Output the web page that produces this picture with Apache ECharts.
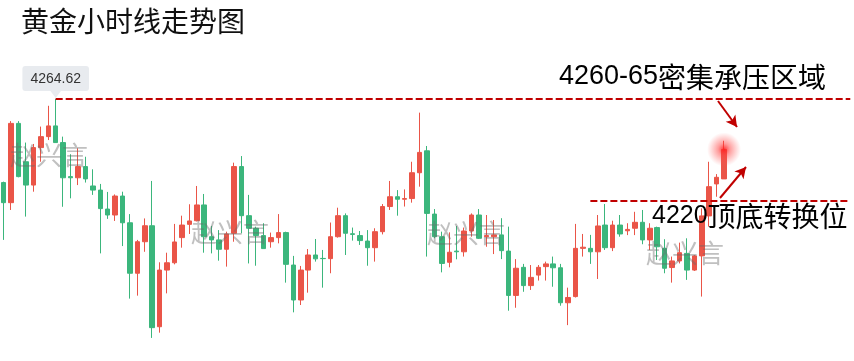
<!DOCTYPE html>
<html><head><meta charset="utf-8">
<script src="https://cdn.jsdelivr.net/npm/echarts@6/dist/echarts.min.js"></script>
<style>html,body{margin:0;padding:0;background:#fff}#c{width:854px;height:361px}</style>
</head><body><div id="c"></div><script>
const opens=[4228.0,4219.2,4253.9,4237.1,4226.9,4243.3,4248.1,4252.8,4245.5,4230.6,
4230.1,4235.0,4226.5,4224.7,4216.4,4213.8,4222.1,4210.4,4188.3,4202.1,
4209.1,4164.9,4189.7,4192.9,4203.9,4209.7,4211.3,4218.2,4204.3,4202.9,
4198.8,4205.8,4235.0,4213.5,4208.0,4204.8,4202.1,4203.9,4206.1,4191.9,
4176.6,4189.7,4196.3,4194.8,4194.7,4204.3,4213.5,4205.6,4204.8,4202.4,
4199.5,4206.5,4217.5,4221.8,4220.7,4221.0,4232.3,4241.9,4214.2,4204.3,
4193.1,4198.0,4197.7,4206.8,4213.8,4204.3,4204.3,4205.1,4198.0,4178.6,
4190.9,4182.9,4187.5,4191.2,4192.4,4190.7,4175.4,4178.1,4199.2,4199.2,
4197.7,4209.4,4199.5,4209.4,4206.9,4208.0,4210.6,4202.9,4208.3,4199.2,
4190.8,4193.7,4197.0,4189.7,4195.9,4213.4,4227.4,4229.6];
const closes=[4219.2,4253.9,4230.6,4226.9,4243.3,4248.1,4252.8,4245.5,4230.1,4230.1,
4235.0,4229.6,4224.7,4216.6,4213.8,4222.1,4210.4,4188.3,4202.1,4209.1,
4164.5,4189.7,4192.9,4202.0,4209.4,4211.2,4218.2,4204.3,4202.9,4198.8,
4205.5,4235.0,4213.5,4208.0,4204.8,4199.1,4203.9,4206.1,4192.2,4176.6,
4189.7,4196.3,4194.6,4194.7,4204.3,4213.5,4205.8,4205.3,4202.6,4199.5,
4206.5,4217.5,4221.8,4220.7,4221.0,4232.3,4241.2,4214.5,4204.3,4192.6,
4197.5,4197.7,4206.8,4213.8,4203.6,4204.8,4205.1,4198.2,4178.6,4190.5,
4182.9,4186.5,4190.9,4192.4,4190.7,4175.4,4177.7,4199.2,4199.7,4197.7,
4209.0,4199.5,4209.4,4205.5,4207.5,4210.6,4202.9,4208.0,4199.9,4190.5,
4193.7,4197.3,4189.7,4195.9,4213.4,4226.2,4230.3,4242.5];
const lows=[4202.9,4216.0,4230.3,4213.1,4224.0,4237.1,4246.6,4245.5,4217.4,4221.1,
4226.9,4228.0,4222.6,4197.0,4212.1,4211.2,4200.2,4177.2,4178.5,4197.7,
4160.0,4162.3,4179.5,4192.2,4199.5,4205.5,4211.0,4197.3,4197.0,4193.8,
4191.2,4202.1,4205.8,4192.6,4191.6,4199.1,4199.5,4201.4,4184.2,4171.2,
4174.4,4179.8,4193.4,4182.0,4188.3,4203.9,4196.3,4202.6,4200.7,4191.6,
4193.4,4205.3,4216.0,4213.5,4217.5,4219.2,4226.2,4195.6,4203.6,4188.7,
4190.9,4194.4,4195.6,4204.3,4203.3,4199.9,4196.7,4194.5,4171.9,4173.2,
4180.2,4181.0,4185.1,4185.1,4182.4,4174.1,4165.6,4177.7,4195.6,4192.4,
4185.8,4198.5,4198.0,4204.3,4205.0,4205.0,4201.0,4198.5,4194.1,4188.3,
4184.2,4192.6,4185.4,4189.3,4178.1,4208.7,4221.8,4229.6];
const highs=[4228.4,4254.9,4254.9,4245.5,4244.9,4252.5,4261.6,4264.62,4248.1,4240.4,
4243.0,4239.3,4233.8,4227.4,4223.9,4222.8,4224.0,4214.2,4202.9,4212.3,
4228.7,4193.1,4197.3,4209.9,4213.5,4218.5,4226.5,4223.0,4209.0,4207.2,
4206.5,4236.7,4239.6,4222.6,4208.7,4210.2,4206.1,4214.2,4206.5,4195.9,
4191.5,4198.9,4203.3,4198.5,4210.5,4217.0,4214.5,4208.3,4206.8,4207.2,
4208.0,4218.6,4228.7,4224.7,4225.0,4237.1,4258.6,4244.0,4216.4,4206.5,
4206.2,4209.0,4208.3,4214.5,4216.4,4213.8,4211.6,4212.4,4208.7,4194.5,
4192.4,4191.9,4191.9,4193.4,4195.6,4192.4,4182.0,4209.9,4205.5,4205.1,
4213.8,4218.6,4211.3,4213.8,4210.2,4215.2,4216.0,4210.2,4208.7,4203.2,
4195.6,4201.7,4203.6,4196.3,4216.7,4237.1,4231.7,4246.3];

const titleText='黄金小时线走势图';
const note1Num='4260-65', note1Txt='密集承压区域';
const note2Num='4220', note2Txt='顶底转换位';
const peakLabel='4264.62';
const peakValue=4264.62, peakIndex=7;
const pivotLevel=4220, pivotStart=79;
const watermark='赵兴言';

const slotCount=115;
const categories=[];
for(let i=0;i<slotCount;i++) categories.push(String(i+1));
const candles=opens.map((o,i)=>[o,closes[i],lows[i],highs[i]]);
const lastIndex=closes.length-1;
const lastPrice=closes[lastIndex];

const RED='#ea5548', GREEN='#3bb67c', DARK='#c00000';
const dashStyle={color:DARK,type:[7,3],width:2};
const wmStyle=(x,y)=>({type:'text',x:x,y:y,z:5,style:{text:watermark,fill:'rgba(105,105,105,0.42)',font:'26px "Noto Sans CJK SC"',align:'center',verticalAlign:'middle'}});

const chart=echarts.init(document.getElementById('c'),null,{renderer:'canvas'});
chart.setOption({
  animation:false,
  backgroundColor:'#fff',
  grid:{left:-1.73,top:0,width:858.36,height:361},
  xAxis:{type:'category',data:categories,show:false,boundaryGap:true},
  yAxis:{type:'value',min:4149.9,max:4307.9,show:false,splitLine:{show:false}},
  series:[{
    type:'candlestick',
    data:candles,
    barWidth:5,
    itemStyle:{color:RED,color0:GREEN,borderColor:RED,borderColor0:GREEN,borderWidth:1},
    markLine:{
      silent:true,
      symbol:['none','none'],
      label:{show:false},
      data:[
        [{yAxis:lastPrice,lineStyle:{color:'#f0a6a6',width:1,type:'solid'}},{yAxis:lastPrice}],
        [{coord:[peakIndex,peakValue],lineStyle:dashStyle},{coord:[slotCount-1,peakValue]}],
        [{coord:[pivotStart,pivotLevel],lineStyle:dashStyle},{coord:[slotCount-1,pivotLevel]}],
        [{x:718,y:101,symbol:'none',lineStyle:{color:DARK,width:2,type:'solid'}},{x:737,y:127,symbol:'arrow',symbolSize:[9,11]}],
        [{x:720,y:198,symbol:'none',lineStyle:{color:DARK,width:2,type:'solid'}},{x:746,y:167,symbol:'arrow',symbolSize:[9,11]}]
      ]
    },
    markPoint:{
      silent:true,
      data:[
        {coord:[lastIndex,lastPrice],symbol:'circle',symbolSize:34,label:{show:false},
          itemStyle:{color:{type:'radial',x:0.5,y:0.5,r:0.5,colorStops:[
            {offset:0,color:'rgba(255,30,30,0.9)'},{offset:0.35,color:'rgba(255,60,60,0.5)'},{offset:1,color:'rgba(255,90,90,0)'}]}}},
        {coord:[peakIndex,peakValue],symbol:'triangle',symbolRotate:180,symbolSize:[12,8],symbolOffset:[0,-5],
          itemStyle:{color:'#e8ebef'},label:{show:false}},
        {coord:[peakIndex,peakValue],symbol:'circle',symbolSize:0,
          label:{show:true,position:'top',distance:8,formatter:peakLabel,backgroundColor:'#e8ebef',color:'#333',
            fontSize:14,fontFamily:'Liberation Sans',padding:[6,8,5,8],borderRadius:3}}
      ]
    }
  }],
  graphic:[
    {type:'text',x:21,y:21,z:10,style:{text:titleText,font:'28px "Noto Sans CJK SC"',fill:'#111',verticalAlign:'middle'}},
    {type:'text',x:559,y:77,z:10,style:{text:'{a|'+note1Num+'}{b|'+note1Txt+'}',verticalAlign:'middle',
      rich:{a:{fontSize:27,fontFamily:'Liberation Sans',fill:'#000'},b:{fontSize:28,fontFamily:'Noto Sans CJK SC',fill:'#000'}}}},
    {type:'text',x:652,y:216,z:10,style:{text:'{a|'+note2Num+'}{b|'+note2Txt+'}',verticalAlign:'middle',
      rich:{a:{fontSize:25,fontFamily:'Liberation Sans',fill:'#000'},b:{fontSize:28,fontFamily:'Noto Sans CJK SC',fill:'#000'}}}},
    wmStyle(49,155),wmStyle(230,232),wmStyle(466,233),wmStyle(685,253)
  ]
});
</script></body></html>
